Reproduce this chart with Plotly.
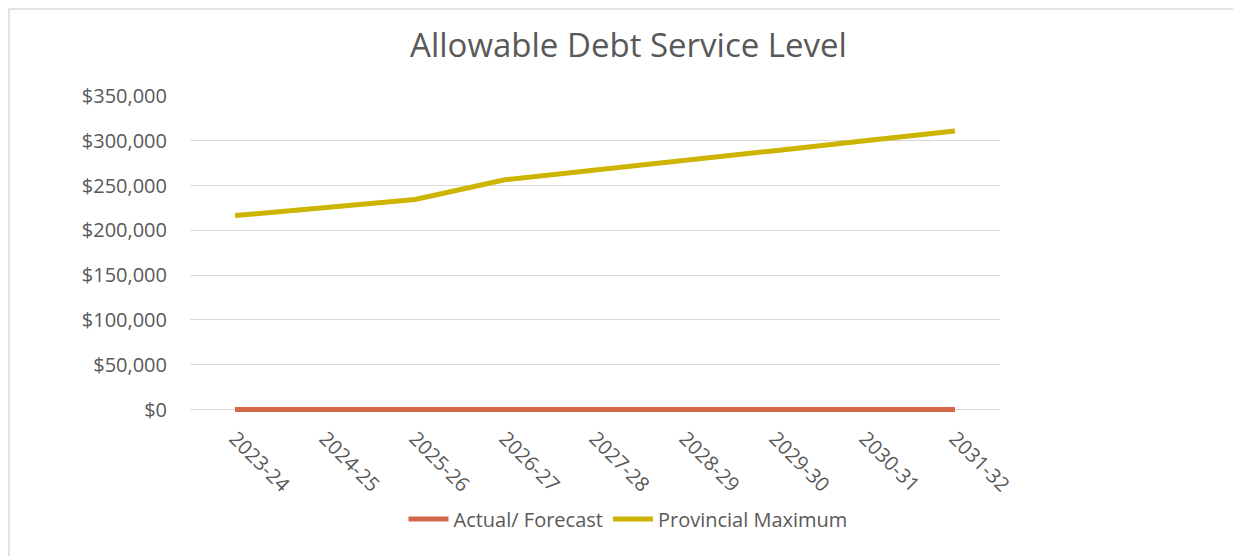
import plotly.graph_objects as go

categories = ["2023-24", "2024-25", "2025-26", "2026-27", "2027-28",
              "2028-29", "2029-30", "2030-31", "2031-32"]
actual_forecast = [0, 0, 0, 0, 0, 0, 0, 0, 0]
provincial_max = [216500, 225500, 234500, 256500, 267000, 278000, 289000, 300000, 311000]
y_ticks = [0, 50000, 100000, 150000, 200000, 250000, 300000, 350000]
y_tick_labels = ["$0", "$50,000", "$100,000", "$150,000", "$200,000",
                 "$250,000", "$300,000", "$350,000"]

FONT = "Open Sans"
W, H = 1241, 556
OFF = 8  # page body margin

Y_MIN, Y_MAX = -5000, 350000
PLOT_L, PLOT_R, PLOT_T, ZERO_Y = 190, 1000, 96, 409.5
PX_PER_UNIT = (ZERO_Y - PLOT_T) / Y_MAX
PLOT_B = ZERO_Y - Y_MIN * PX_PER_UNIT
PH = PLOT_B - PLOT_T
PW = PLOT_R - PLOT_L

fig = go.Figure()
fig.add_trace(go.Scatter(x=categories, y=actual_forecast, mode="lines",
                         name="Actual/ Forecast",
                         line=dict(color="#D4674A", width=5)))
fig.add_trace(go.Scatter(x=categories, y=provincial_max, mode="lines",
                         name="Provincial Maximum",
                         line=dict(color="#CCB400", width=5)))

fig.update_layout(
    width=W, height=H,
    margin=dict(l=PLOT_L - OFF, r=W + OFF - PLOT_R, t=PLOT_T - OFF,
                b=H + OFF - PLOT_B),
    paper_bgcolor="white", plot_bgcolor="white",
    font=dict(family=FONT, color="#595959", size=20),
    title=dict(text="Allowable Debt Service Level", x=(628.5 - OFF) / W,
               xanchor="center", y=1 - (45 - OFF) / H, yanchor="middle",
               font=dict(family=FONT, size=33, color="#595959")),
    xaxis=dict(type="category", range=[-0.5, 8.5], showgrid=False,
               showline=False, zeroline=False, ticks="", tickangle=45,
               ticklabelstandoff=8,
               tickfont=dict(size=20, color="#595959")),
    yaxis=dict(range=[Y_MIN, Y_MAX], tickvals=y_ticks, ticktext=y_tick_labels,
               showgrid=True, gridcolor="#D9D9D9", gridwidth=1,
               zeroline=False, showline=False, ticks="",
               ticklabelstandoff=22,
               tickfont=dict(size=20, color="#595959")),
    legend=dict(orientation="h", x=(628 - PLOT_L) / PW, xanchor="center",
                y=-(519 - PLOT_B) / PH, yanchor="middle",
                font=dict(size=20, color="#595959"),
                itemwidth=40, bgcolor="rgba(0,0,0,0)"),
    showlegend=True,
)

# thin chart-area border (figure-relative pixels converted to paper units)
fig.add_shape(type="rect", xref="paper", yref="paper",
              x0=(OFF + 1 - PLOT_L) / PW, x1=(1239 - PLOT_L) / PW,
              y0=-(570 - PLOT_B) / PH, y1=(PLOT_B - OFF - 1) / PH,
              line=dict(color="#D9D9D9", width=1.5), fillcolor="rgba(0,0,0,0)",
              layer="below")

fig.write_html("out.html")
